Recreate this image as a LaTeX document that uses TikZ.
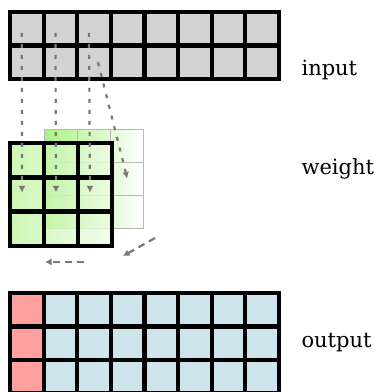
\documentclass[tikz,border=0pt]{standalone}
\usepackage{fontspec}
\usetikzlibrary{arrows.meta}
\setmainfont{DejaVu Serif}
\definecolor{ingray}{RGB}{211,211,211}
\definecolor{outblue}{RGB}{204,228,234}
\definecolor{outred}{RGB}{255,160,160}
\definecolor{wgreen}{RGB}{150,238,100}
\definecolor{arrowgray}{RGB}{120,120,120}
\begin{document}
\begin{tikzpicture}[x=1pt,y=-1pt,>={Latex[length=6.5pt,width=7pt]},
    cellbox/.style={draw,line width=4.2pt,minimum size=33.6pt,inner sep=0pt,outer sep=0pt},
    ghostbox/.style={draw=gray!55,line width=0.8pt,minimum size=33.2pt,inner sep=0pt,outer sep=0pt},
    flowarrow/.style={->,arrowgray,line width=2.2pt,dash pattern=on 4pt off 7pt},
    backarrow/.style={->,arrowgray,line width=2.2pt,dash pattern=on 7pt off 5pt},
    caption/.style={anchor=base west,font=\fontsize{21}{25}\selectfont}]
  \clip (0,0) rectangle (377,392);
  % input
  \foreach \r in {1,2}
    \foreach \c in {1,...,8}
      \node[cellbox,fill=ingray] (in-\r-\c) at ({10+33.6*(\c-0.5)},{12+33.5*(\r-0.5)}) {};
  % weight, shifted copy behind
  \shade[left color=wgreen!80,right color=white] (44,129) rectangle (144,228);
  \foreach \r in {1,2,3}
    \foreach \c in {1,2,3}
      \node[ghostbox] (b-\r-\c) at ({44+33.3*(\c-0.5)},{129+33*(\r-0.5)}) {};
  % weight, front
  \shade[left color=wgreen!65,right color=wgreen!15,fill opacity=0.75] (10,143) rectangle (112,246);
  \foreach \r in {1,2,3}
    \foreach \c in {1,2,3}
      \node[cellbox,minimum size=34pt] (w-\r-\c) at ({10+34*(\c-0.5)},{143+34.3*(\r-0.5)}) {};
  % output
  \foreach \r in {1,2,3}
    \foreach \c in {1,...,8}{
      \ifnum\c=1 \def\cellcol{outred}\else \def\cellcol{outblue}\fi
      \node[cellbox,fill=\cellcol] (out-\r-\c) at ({10+33.6*(\c-0.5)},{293+33.5*(\r-0.5)}) {};
    }
  % arrows
  \foreach \c in {1,2,3}
    \draw[flowarrow] ([xshift=-5pt,yshift=-4pt]in-1-\c.center) -- ([xshift=-5pt,yshift=2pt]w-2-\c.center);
  \draw[flowarrow] ([xshift=4pt]in-2-3.center) -- (b-2-3.center);
  \coordinate (turn-a) at (155,238);
  \coordinate (turn-b) at (123,256);
  \coordinate (back-a) at (84,262);
  \coordinate (back-b) at (45,262);
  \draw[backarrow] (turn-a) -- (turn-b);
  \draw[backarrow] (back-a) -- (back-b);
  % labels
  \node[caption] (lbl-in) at (298,75) {input};
  \node[caption] (lbl-w) at (298,174) {weight};
  \node[caption] (lbl-out) at (298,347) {output};
\end{tikzpicture}
\end{document}
